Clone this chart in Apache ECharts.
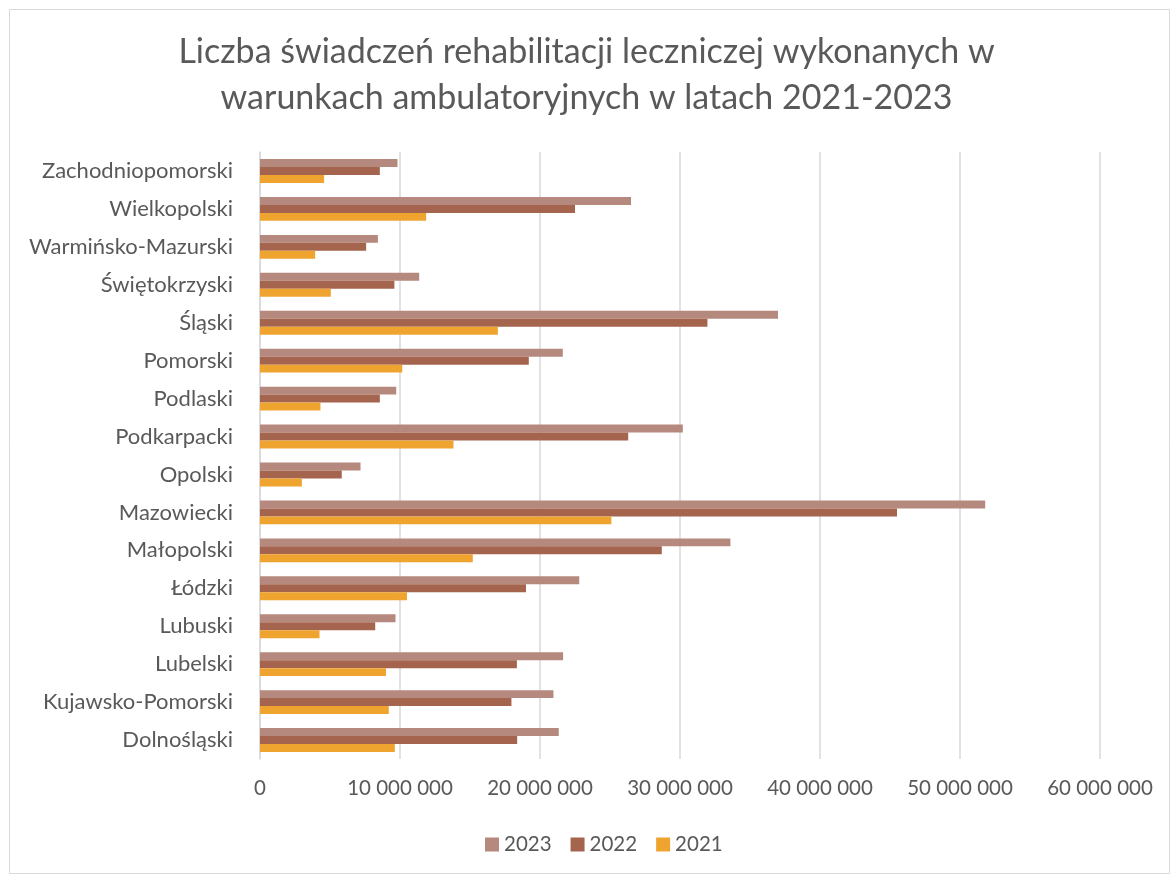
<!DOCTYPE html>
<html>
<head>
<meta charset="utf-8">
<script src="https://cdn.jsdelivr.net/npm/echarts@6/dist/echarts.min.js"></script>
<style>html,body{margin:0;padding:0;background:#fff}#c{width:1173px;height:876px}</style>
</head>
<body>
<div id="c"></div>
<script>
const categories = ['Dolnośląski','Kujawsko-Pomorski','Lubelski','Lubuski','Łódzki','Małopolski','Mazowiecki','Opolski','Podkarpacki','Podlaski','Pomorski','Śląski','Świętokrzyski','Warmińsko-Mazurski','Wielkopolski','Zachodniopomorski'];
const v2023 = [21340000,20960000,21650000,9680000,22800000,33600000,51800000,7180000,30200000,9730000,21630000,37000000,11370000,8420000,26500000,9820000];
const v2022 = [18370000,17960000,18350000,8230000,19000000,28700000,45500000,5840000,26300000,8560000,19200000,31960000,9600000,7580000,22500000,8560000];
const v2021 = [9630000,9200000,9000000,4250000,10500000,15200000,25100000,2990000,13820000,4320000,10160000,16990000,5060000,3940000,11870000,4580000];
const seriesNames = ['2023','2022','2021'];
const colors = ['#b5897d','#a5644e','#f0a430'];

const chart = echarts.init(document.getElementById('c'), null, {renderer:'canvas'});
const font = 'Lato, "Open Sans", sans-serif';
function fmt(v){ return String(v).replace(/\B(?=(\d{3})+(?!\d))/g,' '); }
const vals = [v2023, v2022, v2021];
chart.setOption({
  animation:false,
  textStyle:{fontFamily:font},
  title:{
    text:'Liczba świadczeń rehabilitacji leczniczej wykonanych w\nwarunkach ambulatoryjnych w latach 2021-2023',
    left:'center', top:24, padding:[5,5,5,19],
    textStyle:{fontFamily:font, fontSize:34, fontWeight:'normal', color:'#595959', lineHeight:46}
  },
  graphic:[{type:'rect', shape:{x:9.5,y:9.5,width:1160,height:864}, style:{fill:'none', stroke:'#d9d9d9', lineWidth:1}}],
  legend:{
    data:seriesNames, top:829, left:480,
    itemWidth:14, itemHeight:14, itemGap:19,
    icon:'rect',
    textStyle:{fontFamily:font, fontSize:20.5, color:'#595959'}
  },
  grid:{left:260, right:73, top:152, bottom:117, containLabel:false},
  xAxis:{
    type:'value', min:0, max:60000000, interval:10000000,
    axisLine:{show:false}, axisTick:{show:false},
    splitLine:{lineStyle:{color:'#d9d9d9', width:1.5}},
    axisLabel:{formatter:fmt, fontSize:20.5, color:'#595959', margin:19, fontFamily:font}
  },
  yAxis:{
    type:'category', data:categories,
    axisLine:{lineStyle:{color:'#d9d9d9', width:1.5}}, axisTick:{show:false},
    axisLabel:{fontSize:22, color:'#595959', margin:27, fontFamily:font}
  },
  series: seriesNames.map((n,i)=>({
    name:n, type:'bar', data:vals[i],
    itemStyle:{color:colors[i]},
    barGap:'0%', barCategoryGap:'37%'
  }))
});
</script>
</body>
</html>
